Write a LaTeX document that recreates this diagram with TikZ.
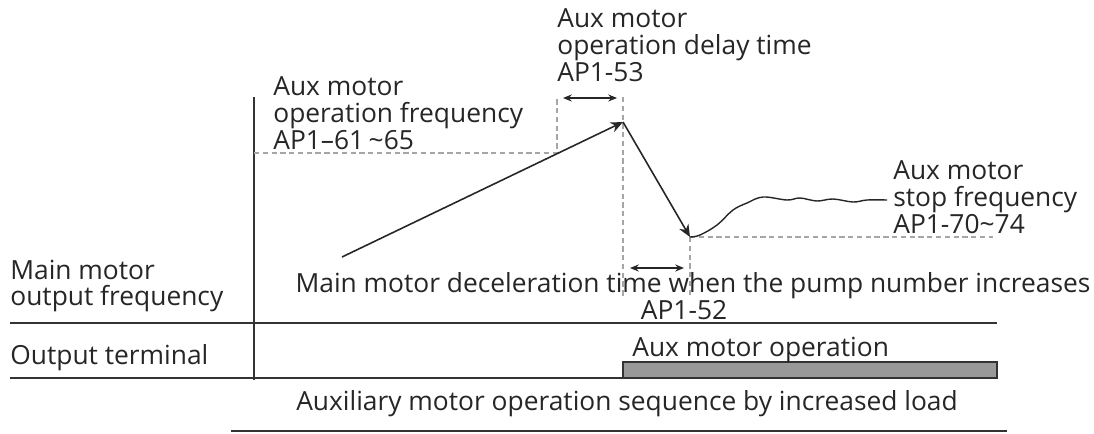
\documentclass[tikz,border=0pt]{standalone}
\usepackage{fontspec}
\setmainfont{Open Sans}
\usetikzlibrary{arrows.meta}

\begin{document}
\begin{tikzpicture}[x=0.02cm, y=-0.02cm,
    axisline/.style={draw=black!80, line width=0.9pt},
    guide/.style={draw=black!35, dash pattern=on 3pt off 2pt, line width=0.8pt},
    ramp/.style={-{Stealth[length=7pt,width=6pt]}, line width=0.9pt, black!85},
    span/.style={{Stealth[length=5pt,width=4pt]}-{Stealth[length=5pt,width=4pt]}, line width=0.7pt, black!85},
    labelnode/.style={font=\fontsize{15}{15.3}\selectfont, align=left, inner sep=0pt, text=black!85}]
\useasboundingbox (0,0) rectangle (1094,433);
% key points
\coordinate (start) at (342,257);
\coordinate (peak) at (623,122);
\coordinate (trough) at (690,237);
\coordinate (opfreq) at (557,153);
% axes
\draw[axisline] (254,97) -- (254,380);
\draw[axisline] (10,323) -- (997,323);
\draw[axisline] (10,378) -- (997,378);
% output terminal bar
\draw[axisline, fill=black!40] (623,378) rectangle (997,362);
% guide lines
\draw[guide] (254,153) -- (opfreq) -- (557,97);
\draw[guide] (623,97) -- (peak) -- (623,298);
\draw[guide] (trough) -- (690,298);
\draw[guide] (trough) -- (993,237);
% time spans
\draw[span] (563,98) -- (617,98);
\draw[span] (630,268) -- (684,268);
% frequency ramp
\draw[ramp] (start) -- (peak);
\draw[ramp] (peak) -- (trough);
\draw[line width=0.8pt, black!85] plot[smooth, tension=0.6] coordinates {
    (trough) (700,235) (717,225) (733,210) (747,203) (763,197) (787,200)
    (800,198) (817,201) (833,199) (853,202) (867,200) (887,200)};
% labels
\node[labelnode, anchor=west] (opfreqlabel) at (273,113) {Aux motor\\operation frequency\\AP1--61\,\textasciitilde 65};
\node[labelnode, anchor=west] (delaylabel) at (557,45) {Aux motor\\operation delay time\\AP1-53};
\node[labelnode, anchor=west] (stoplabel) at (893,197) {Aux motor\\stop frequency\\AP1-70\textasciitilde 74};
\node[labelnode, anchor=west] (mainlabel) at (10,286) {Main motor\\output frequency};
\node[labelnode, anchor=west] (termlabel) at (10,358) {Output terminal};
\node[labelnode] (decellabel) at (693,286) {Main motor deceleration time when the pump number increases};
\node[labelnode] (decelcode) at (684,310) {AP1-52};
\node[labelnode, anchor=west] (auxoplabel) at (632,350) {Aux motor operation};
\node[labelnode] (caption) at (627,404) {Auxiliary motor operation sequence by increased load};
\draw[axisline] (231,431) -- (1007,431);
\end{tikzpicture}
\end{document}
